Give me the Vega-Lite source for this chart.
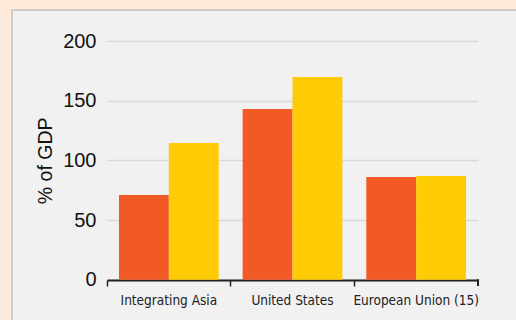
{
  "$schema": "https://vega.github.io/schema/vega-lite/v6.json",
  "autosize": "none",
  "width": 506,
  "height": 312,
  "padding": {"left": 12, "top": 10, "right": 0, "bottom": 0},
  "background": "#FDEADA",
  "config": {
    "view": {"fill": "#F1F1F1", "stroke": "#CCCCCC", "strokeWidth": 2},
    "font": "Liberation Sans"
  },
  "data": {
    "values": [
      {"region": "Integrating Asia", "series": "earlier", "value": 70.9},
      {"region": "Integrating Asia", "series": "later", "value": 114.5},
      {"region": "United States", "series": "earlier", "value": 143},
      {"region": "United States", "series": "later", "value": 169.8},
      {"region": "European Union (15)", "series": "earlier", "value": 86},
      {"region": "European Union (15)", "series": "later", "value": 86.9}
    ]
  },
  "layer": [
    {
      "mark": {"type": "bar"},
      "encoding": {
        "x": {
          "field": "region",
          "type": "nominal",
          "sort": null,
          "scale": {"range": [95, 466], "paddingInner": 0, "paddingOuter": 0},
          "axis": {
            "title": null,
            "offset": -42,
            "bandPosition": 0,
            "labelAngle": 0,
            "labelFont": "DejaVu Sans Condensed",
            "labelFontSize": 13.5,
            "labelColor": "#222222",
            "labelPadding": 7,
            "tickSize": 6,
            "tickColor": "#222222",
            "tickWidth": 1.5,
            "domainColor": "#222222",
            "domainWidth": 2,
            "grid": false
          }
        },
        "xOffset": {
          "field": "series",
          "type": "nominal",
          "scale": {"paddingInner": 0, "paddingOuter": 0.24}
        },
        "y": {
          "field": "value",
          "type": "quantitative",
          "scale": {"domain": [0, 200], "range": [269.7, 31], "nice": false, "zero": true},
          "axis": {
            "title": "% of GDP",
            "titleFontSize": 19.5,
            "titleFontWeight": "normal",
            "titleColor": "#111111",
            "titlePadding": 7,
            "offset": -95,
            "values": [0, 50, 100, 150, 200],
            "labelFontSize": 20,
            "labelColor": "#111111",
            "labelPadding": 11,
            "ticks": false,
            "domain": false,
            "grid": true,
            "gridColor": "#D9D9D9",
            "gridWidth": 1.5
          }
        },
        "y2": {"datum": 0},
        "color": {
          "field": "series",
          "type": "nominal",
          "scale": {"domain": ["earlier", "later"], "range": ["#F15A25", "#FFCB05"]},
          "legend": null
        }
      }
    },
    {
      "mark": {"type": "rule", "color": "#222222", "strokeWidth": 1.5},
      "encoding": {
        "x": {"datum": "European Union (15)", "bandPosition": 1},
        "y": {"datum": 0},
        "y2": {"datum": -5}
      }
    }
  ]
}
